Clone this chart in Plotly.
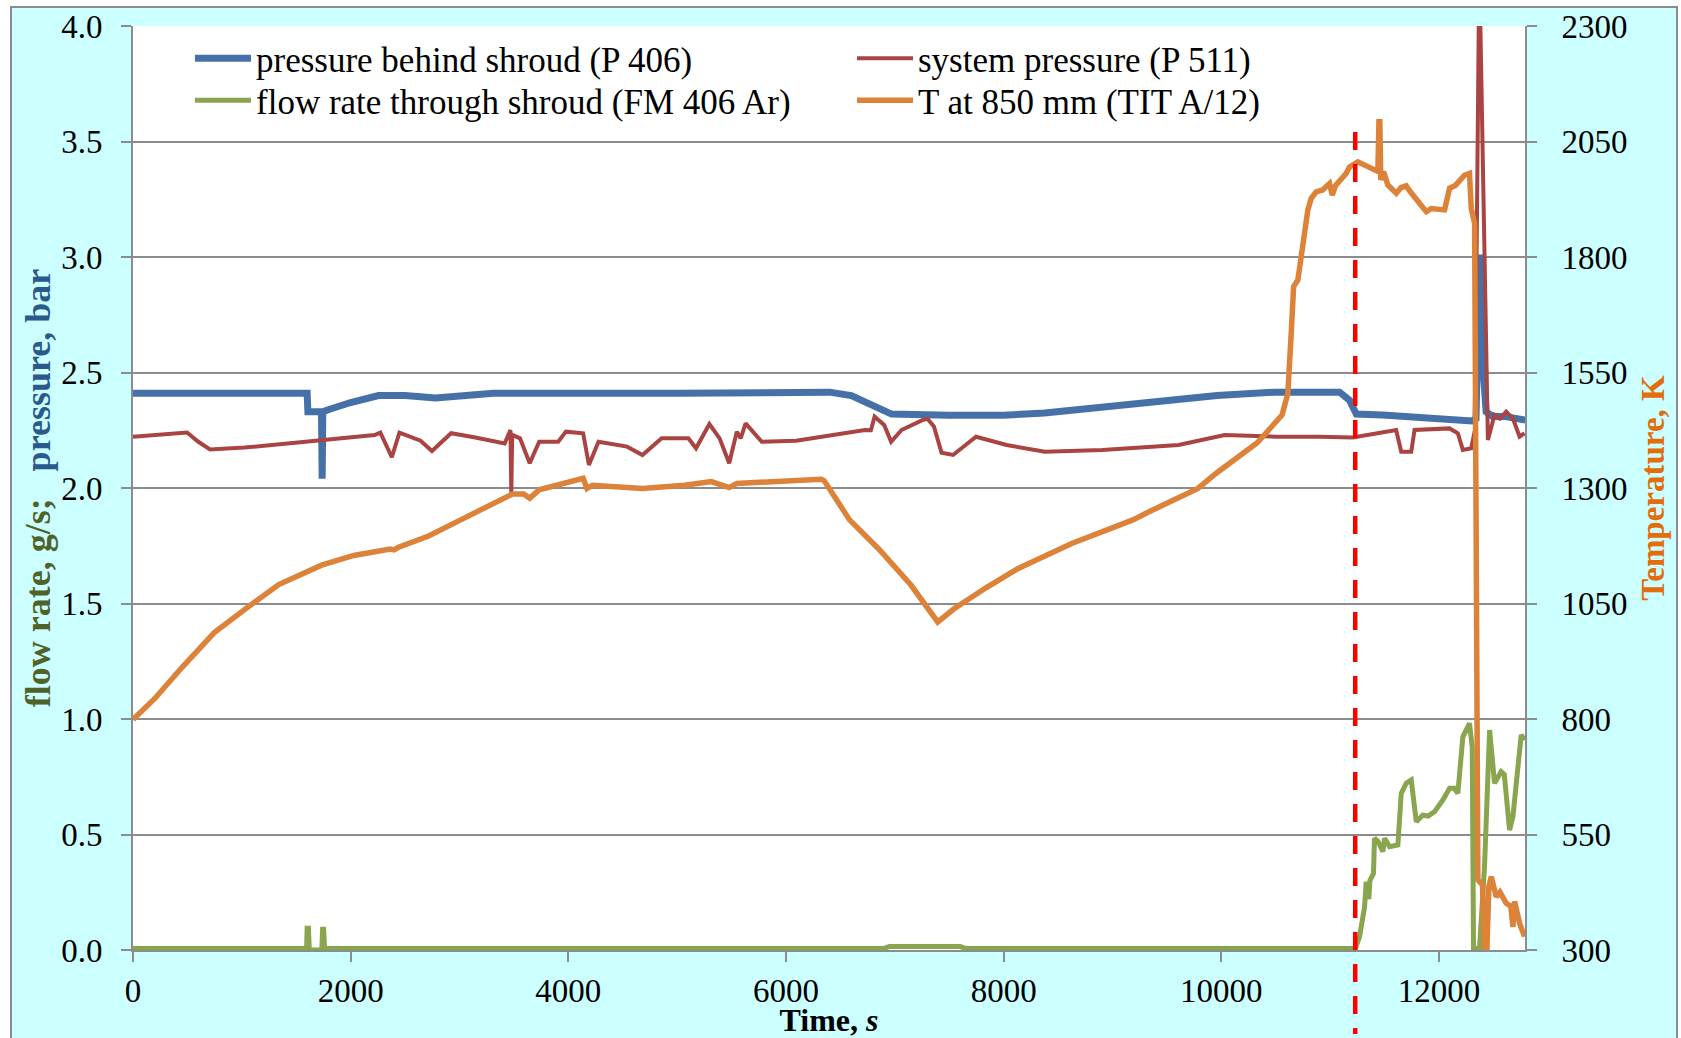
import plotly.graph_objects as go

# ---------------- data ----------------
# pressure behind shroud (P 406), bar
t_p406 = [0, 1600, 1607, 1710, 1732, 1738, 1744, 1800, 2000, 2255, 2500, 2781, 3000, 3310,
          5000, 6400, 6600, 6800, 6970, 7500, 8000, 8376, 9259, 9961, 10490, 11086, 11178,
          11224, 11240, 11484, 12000, 12300, 12340, 12372, 12400, 12433, 12493, 12600, 12792]
p406 = [2.41, 2.41, 2.33, 2.33, 2.33, 2.04, 2.33, 2.34, 2.37, 2.40, 2.40, 2.39, 2.40, 2.41,
        2.41, 2.415, 2.40, 2.36, 2.32, 2.315, 2.315, 2.325, 2.37, 2.40, 2.415, 2.415, 2.38,
        2.33, 2.32, 2.316, 2.30, 2.29, 2.30, 3.01, 2.55, 2.33, 2.31, 2.31, 2.294]

# system pressure (P 511), bar
t_p511 = [0, 497, 600, 708, 1024, 1550, 2220, 2273, 2378, 2448, 2642, 2747, 2923, 3134, 3415,
          3468, 3476, 3484, 3556, 3645, 3732, 3907, 3978, 4136, 4189, 4277, 4540, 4681, 4857,
          5103, 5173, 5296, 5390, 5478, 5548, 5583, 5629, 5777, 6093, 6726, 6780, 6814, 6902,
          6966, 7061, 7253, 7300, 7359, 7429, 7535, 7746, 8027, 8379, 8906, 9607, 10031, 10500,
          10902, 11208, 11606, 11653, 11745, 11775, 12097, 12173, 12219, 12296, 12330, 12365,
          12380, 12449, 12510, 12560, 12617, 12680, 12740, 12786]
p511 = [2.222, 2.24, 2.20, 2.167, 2.175, 2.20, 2.229, 2.24, 2.133, 2.24, 2.205, 2.16, 2.237,
        2.22, 2.193, 2.251, 1.977, 2.23, 2.215, 2.107, 2.20, 2.20, 2.244, 2.237, 2.10, 2.20,
        2.179, 2.143, 2.215, 2.215, 2.172, 2.277, 2.215, 2.107, 2.244, 2.215, 2.28, 2.20,
        2.205, 2.251, 2.25, 2.309, 2.273, 2.20, 2.251, 2.294, 2.30, 2.266, 2.153, 2.143,
        2.222, 2.186, 2.157, 2.165, 2.186, 2.229, 2.222, 2.222, 2.219, 2.251, 2.157, 2.157,
        2.251, 2.258, 2.237, 2.165, 2.172, 2.25, 4.0, 4.0, 2.208, 2.316, 2.30, 2.33, 2.30,
        2.222, 2.237]

# flow rate through shroud (FM 406 Ar), g/s
t_fm = [0, 1595, 1600, 1612, 1620, 1735, 1742, 1752, 1760, 6900, 6950, 7600, 7650, 11232,
        11270, 11316, 11331, 11355, 11365, 11398, 11407, 11440, 11484, 11500, 11546, 11622,
        11653, 11699, 11745, 11791, 11851, 11900, 11959, 12035, 12097, 12140, 12173, 12219,
        12280, 12305, 12317, 12372, 12418, 12465, 12510, 12571, 12600, 12648, 12679, 12755,
        12786]
fm406 = [0.007, 0.007, 0.094, 0.094, 0.0, 0.0, 0.09, 0.09, 0.007, 0.007, 0.015, 0.015,
         0.007, 0.007, 0.058, 0.187, 0.296, 0.22, 0.30, 0.332, 0.484, 0.47, 0.426, 0.484,
         0.447, 0.455, 0.678, 0.722, 0.736, 0.555, 0.584, 0.58, 0.599, 0.649, 0.70, 0.70,
         0.678, 0.923, 0.981, 0.88, 0.007, 0.007, 0.36, 0.952, 0.722, 0.772, 0.76, 0.519,
         0.577, 0.931, 0.909]

# T at 850 mm (TIT A/12), K
t_tit = [0, 203, 451, 747, 1043, 1339, 1733, 2028, 2363, 2400, 2440, 2716, 3011, 3486, 3590,
         3645, 3732, 4012, 4136, 4171, 4223, 4681, 5068, 5314, 5478, 5550, 6322, 6350, 6584,
         6852, 7148, 7394, 7541, 7837, 8133, 8625, 9187, 9340, 9785, 9953, 10330, 10558,
         10593, 10611, 10642, 10664, 10703, 10734, 10795, 10826, 10872, 10930, 10994, 11019,
         11050, 11147, 11178, 11254, 11362, 11438, 11448, 11456, 11465, 11490, 11530, 11607,
         11650, 11698, 11740, 11883, 11930, 12051, 12097, 12150, 12234, 12280, 12296, 12327,
         12357, 12400, 12418, 12440, 12458, 12480, 12526, 12560, 12618, 12660, 12679, 12694,
         12740, 12786]
tit = [799, 845, 912, 987, 1040, 1091, 1133, 1154, 1168, 1166, 1172, 1196, 1231, 1287, 1287,
       1278, 1296, 1314, 1321, 1299, 1306, 1299, 1306, 1314, 1301, 1310, 1319, 1316, 1231,
       1168, 1090, 1010, 1038, 1084, 1126, 1180, 1231, 1249, 1299, 1332, 1398, 1458, 1483,
       1505, 1635, 1736, 1750, 1808, 1902, 1927, 1941, 1945, 1959, 1934, 1955, 1981, 1995,
       2006, 1992, 1985, 2093, 2093, 1967, 1985, 1956, 1938, 1950, 1954, 1940, 1898, 1905,
       1902, 1949, 1955, 1977, 1981, 1905, 1873, 452, 440, 300, 300, 437, 459, 415, 425, 401,
       395, 350, 405, 358, 329]

t_event = 11230  # start of the event marked by the dashed line, s

x_range = [0, 12790]
x_ticks = [0, 2000, 4000, 6000, 8000, 10000, 12000]
y_range = [0, 4.0]
y2_range = [300, 2300]

# ---------------- page geometry (px) ----------------
W, H = 1681, 1038
ML, MR, MT, MB = 133, 156, 26, 88
PW, PH = W - ML - MR, H - MT - MB


def px_x(px):
    return (px - ML) / PW


def px_y(py):
    return (H - MB - py) / PH


FONT = "Liberation Serif"
GRID = "#8c8c8c"
C_BLUE, C_RED, C_GREEN, C_ORANGE = "#4571a8", "#aa4442", "#89a54e", "#dc8239"

fig = go.Figure()
fig.add_trace(go.Scatter(x=t_p406, y=p406, mode="lines", name="pressure behind shroud (P 406)",
                         line=dict(color=C_BLUE, width=7), legend="legend"))
fig.add_trace(go.Scatter(x=t_p511, y=p511, mode="lines", name="system pressure (P 511)",
                         line=dict(color=C_RED, width=4), legend="legend"))
fig.add_trace(go.Scatter(x=t_fm, y=fm406, mode="lines", name="flow rate through shroud (FM 406 Ar)",
                         line=dict(color=C_GREEN, width=5), legend="legend2"))
fig.add_trace(go.Scatter(x=t_tit, y=tit, mode="lines", name="T at 850 mm (TIT A/12)",
                         yaxis="y2", line=dict(color=C_ORANGE, width=5.5), legend="legend2"))

tickfont = dict(family=FONT, size=33, color="black")
axis_common = dict(
    zeroline=False, showline=True, linecolor=GRID, linewidth=2,
    ticks="outside", ticklen=10, tickwidth=2, tickcolor=GRID,
    tickfont=tickfont, automargin=False,
)
legend_common = dict(
    orientation="h", x=px_x(190), xanchor="left", yanchor="top",
    bgcolor="rgba(0,0,0,0)", font=dict(family=FONT, size=35, color="black"),
    entrywidth=591, entrywidthmode="pixels", itemwidth=56,
)

fig.update_layout(
    width=W, height=H,
    margin=dict(l=ML, r=MR, t=MT, b=MB, pad=0),
    paper_bgcolor="white",
    plot_bgcolor="white",
    font=dict(family=FONT, color="black"),
    showlegend=True,
    legend=dict(y=px_y(29), **legend_common),
    legend2=dict(y=px_y(71), **legend_common),
    xaxis=dict(
        range=x_range, tickvals=x_ticks, tickformat="d", showgrid=False,
        ticklabelstandoff=0, mirror=False,
        title=dict(text="<b>Time, <i>s</i></b>", font=dict(family=FONT, size=32, color="black"),
                   standoff=26),
        **axis_common,
    ),
    yaxis=dict(
        range=y_range, dtick=0.5, tickformat=".1f",
        showgrid=True, gridcolor=GRID, gridwidth=2,
        ticklabelstandoff=12,
        title=dict(
            text=("<b><span style='color:#4f6228'>flow rate, g/s;</span>\u00a0\u00a0\u00a0"
                  "<span style='color:#2a5a8c'>pressure, bar</span></b>"),
            font=dict(family=FONT, size=36), standoff=0),
        **axis_common,
    ),
    yaxis2=dict(
        range=y2_range, tick0=300, dtick=250, tickformat="d", overlaying="y", side="right",
        showgrid=False, ticklabelstandoff=18,
        title=dict(text="<b>Temperature, K</b>", font=dict(family=FONT, size=33, color="#e46c0a"),
                   standoff=14),
        **axis_common,
    ),
    shapes=[
        # chart area: cyan panel with grey frame
        dict(type="rect", xref="paper", yref="paper", layer="below",
             x0=px_x(11), x1=px_x(1677), y0=px_y(H + 20), y1=px_y(7),
             fillcolor="#ccffff", line=dict(color="#8c8c8c", width=2)),
        # white plotting area
        dict(type="rect", xref="paper", yref="paper", layer="below",
             x0=0, x1=1, y0=0, y1=1, fillcolor="white", line=dict(width=0)),
        # event marker
        dict(type="line", xref="paper", yref="paper", layer="above",
             x0=(t_event - x_range[0]) / (x_range[1] - x_range[0]),
             x1=(t_event - x_range[0]) / (x_range[1] - x_range[0]),
             y0=px_y(132), y1=px_y(1034),
             line=dict(color="#ff0000", width=4.5, dash="18px,14px")),
    ],
)

fig.write_html("out.html")
